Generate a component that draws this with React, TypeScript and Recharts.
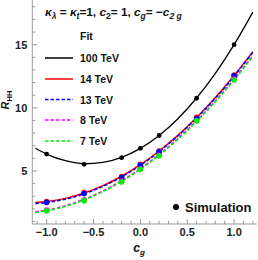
import { ComposedChart, Line, Scatter, XAxis, YAxis } from "recharts";

// fit curves
const fitCg = [-1.12, -1.0, -0.8, -0.6, -0.4, -0.2, 0, 0.2, 0.4, 0.6, 0.8, 1.0, 1.2];
const fit100 = [6.8, 6.34, 5.81, 5.57, 5.68, 6.08, 6.79, 7.81, 9.14, 10.78, 12.73, 15.0, 17.58];
const fit14 = [2.51, 2.58, 2.83, 3.26, 3.84, 4.58, 5.5, 6.58, 7.82, 9.23, 10.81, 12.56, 14.45];
const fit13 = [2.42, 2.5, 2.76, 3.19, 3.78, 4.53, 5.45, 6.53, 7.78, 9.19, 10.76, 12.5, 14.4];
const fit8 = [1.77, 1.9, 2.25, 2.76, 3.41, 4.22, 5.18, 6.3, 7.57, 8.98, 10.55, 12.28, 14.15];
const fit7 = [1.7, 1.84, 2.2, 2.7, 3.36, 4.17, 5.13, 6.24, 7.5, 8.92, 10.49, 12.2, 14.08];

// simulation points
const simCg = [-1.0, -0.6, -0.2, 0, 0.2, 0.6, 1.0];
const sim100 = [6.34, 5.53, 6.05, 6.79, 7.81, 10.76, 15.0];
const sim14 = [2.58, 3.3, 4.55, 5.53, 6.58, 9.26, 12.6];
const sim13 = [2.5, 3.22, 4.47, 5.47, 6.52, 9.16, 12.54];
const sim8 = [1.9, 2.72, 4.18, 5.17, 6.25, 9.0, 12.28];
const sim7 = [1.84, 2.65, 4.13, 5.13, 6.2, 8.97, 12.2];

const seriesNames = ["100 TeV", "14 TeV", "13 TeV", "8 TeV", "7 TeV"];
const seriesColors = ["#000000", "#ff0000", "#0000ff", "#ff00ff", "#00ee00"];
const seriesDash = ["", "", "3.5 2", "3.5 2", "3.5 2"];
const fits = [fit100, fit14, fit13, fit8, fit7];
const sims = [sim100, sim14, sim13, sim8, sim7];

const xTicks = [-1.1, -1.0, -0.9, -0.8, -0.7, -0.6, -0.5, -0.4, -0.3, -0.2, -0.1, 0, 0.1, 0.2, 0.3, 0.4, 0.5, 0.6, 0.7, 0.8, 0.9, 1.0, 1.1, 1.2];
const yTicks = [1, 2, 3, 4, 5, 6, 7, 8, 9, 10, 11, 12, 13, 14, 15, 16, 17, 18];

const FONT = "'Liberation Sans', Arial, sans-serif";
const FRAME = "#9a9a9a";

const toPts = (xs: number[], ys: number[]) => xs.map((x, i) => ({ x, y: ys[i] }));

const isMajorX = (v: number) => Math.abs(v * 2 - Math.round(v * 2)) < 1e-6;
const fmtX = (v: number) => (Math.abs(v) < 1e-9 ? "0.0" : v < 0 ? "\u2212" + Math.abs(v).toFixed(1) : v.toFixed(1));

const BottomTick = (props: any) => {
  const { x, y, payload } = props;
  const major = isMajorX(payload.value);
  return (
    <g>
      <line x1={x} x2={x} y1={y} y2={y - (major ? 5 : 3)} stroke={FRAME} />
      {major && (
        <text x={x} y={y + 12} textAnchor="middle" fontFamily={FONT} fontSize={11} fontWeight="bold" fill="#222">
          {fmtX(payload.value)}
        </text>
      )}
    </g>
  );
};

const TopTick = (props: any) => {
  const { x, y, payload } = props;
  const major = isMajorX(payload.value);
  return <line x1={x} x2={x} y1={y} y2={y + (major ? 5 : 3)} stroke={FRAME} />;
};

const LeftTick = (props: any) => {
  const { x, y, payload } = props;
  const major = payload.value % 5 === 0;
  return (
    <g>
      <line x1={x} x2={x + (major ? 5 : 3)} y1={y} y2={y} stroke={FRAME} />
      {major && (
        <text x={x - 5} y={y + 4} textAnchor="end" fontFamily={FONT} fontSize={11} fontWeight="bold" fill="#222">
          {payload.value}
        </text>
      )}
    </g>
  );
};

const RightTick = (props: any) => {
  const { x, y, payload } = props;
  const major = payload.value % 5 === 0;
  return <line x1={x} x2={x - (major ? 5 : 3)} y1={y} y2={y} stroke={FRAME} />;
};

const legendRows = [58, 79, 99.5, 120, 141];

export default function App() {
  return (
    <div style={{ position: "absolute", left: 0, top: 0, width: 258, height: 260 }}>
      <ComposedChart width={258} height={260} margin={{ top: 0, right: 1.3, bottom: 0, left: 0 }}>
        <XAxis
          xAxisId="b"
          type="number"
          dataKey="x"
          domain={[-1.153, 1.241]}
          ticks={xTicks}
          interval={0}
          height={36}
          tickSize={0}
          tickMargin={0}
          tickLine={false}
          tick={<BottomTick />}
          axisLine={{ stroke: FRAME }}
          allowDataOverflow
        />
        <XAxis
          xAxisId="t"
          orientation="top"
          type="number"
          dataKey="x"
          domain={[-1.153, 1.241]}
          ticks={xTicks}
          interval={0}
          height={0}
          tickSize={0}
          tickMargin={0}
          tickLine={false}
          tick={<TopTick />}
          axisLine={false}
          allowDataOverflow
        />
        <YAxis
          yAxisId="l"
          type="number"
          domain={[0.8, 18.54]}
          ticks={yTicks}
          interval={0}
          width={32.3}
          tickSize={0}
          tickMargin={0}
          tickLine={false}
          tick={<LeftTick />}
          axisLine={{ stroke: FRAME }}
          allowDataOverflow
        />
        <YAxis
          yAxisId="r"
          orientation="right"
          type="number"
          domain={[0.8, 18.54]}
          ticks={yTicks}
          interval={0}
          width={0}
          tickSize={0}
          tickMargin={0}
          tickLine={false}
          tick={<RightTick />}
          axisLine={{ stroke: FRAME }}
          allowDataOverflow
        />
        {fits.map((f, i) => (
          <Line
            key={"fit" + i}
            xAxisId="b"
            yAxisId="l"
            data={toPts(fitCg, f)}
            dataKey="y"
            type="monotone"
            stroke={seriesColors[i]}
            strokeWidth={i === 0 ? 1.3 : 1.5}
            strokeDasharray={seriesDash[i]}
            dot={false}
            isAnimationActive={false}
          />
        ))}
        {[1, 2, 3, 4, 0].map((i) => (
          <Scatter
            key={"sim" + i}
            xAxisId="b"
            yAxisId="l"
            data={toPts(simCg, sims[i])}
            dataKey="y"
            fill={seriesColors[i]}
            isAnimationActive={false}
            shape={(p: any) => <circle cx={p.cx} cy={p.cy} r={i === 0 ? 2.4 : 2.8} fill={seriesColors[i]} />}
          />
        ))}
      </ComposedChart>
      <svg width={258} height={260} style={{ position: "absolute", left: 0, top: 0, pointerEvents: "none" }}>
        <text x={45} y={16} fontFamily={FONT} fontSize={11.8} fontWeight="bold" fill="#111">
          <tspan fontStyle="italic">κ</tspan>
          <tspan fontSize={8.5} dy={3} fontStyle="italic">λ</tspan>
          <tspan dy={-3}> = </tspan>
          <tspan fontStyle="italic">κ</tspan>
          <tspan fontSize={8.5} dy={3} fontStyle="italic">t</tspan>
          <tspan dy={-3}>=1, </tspan>
          <tspan fontStyle="italic">c</tspan>
          <tspan fontSize={8.5} dy={3}>2</tspan>
          <tspan dy={-3}>= 1, </tspan>
          <tspan fontStyle="italic">c</tspan>
          <tspan fontSize={8.5} dy={3} fontStyle="italic">g</tspan>
          <tspan dy={-3}>= −</tspan>
          <tspan fontStyle="italic">c</tspan>
          <tspan fontSize={8.5} dy={3} fontStyle="italic">2 g</tspan>
        </text>
        <text x={80} y={40} fontFamily={FONT} fontSize={10.5} fontWeight="bold" fill="#111">Fit</text>
        {seriesNames.map((n, i) => (
          <g key={n}>
            <line x1={45} x2={73} y1={legendRows[i]} y2={legendRows[i]} stroke={seriesColors[i]} strokeWidth={1.5} strokeDasharray={seriesDash[i]} />
            <text x={80} y={legendRows[i] + 4} fontFamily={FONT} fontSize={10.5} fontWeight="bold" fill="#111">{n}</text>
          </g>
        ))}
        <circle cx={176} cy={207} r={3} fill="#000" />
        <text x={185} y={211.5} fontFamily={FONT} fontSize={13} fontWeight="bold" fill="#111">Simulation</text>
        <text x={139} y={252} textAnchor="middle" fontFamily={FONT} fontSize={12} fontWeight="bold" fontStyle="italic" fill="#111">
          c<tspan fontSize={8} dy={3}>g</tspan>
        </text>
        <text transform="rotate(-90 9 100)" x={9} y={100} textAnchor="middle" fontFamily={FONT} fontSize={11} fontWeight="bold" fill="#111">
          <tspan fontStyle="italic">R</tspan>
          <tspan fontSize={7.5} dy={3}>HH</tspan>
        </text>
      </svg>
    </div>
  );
}
